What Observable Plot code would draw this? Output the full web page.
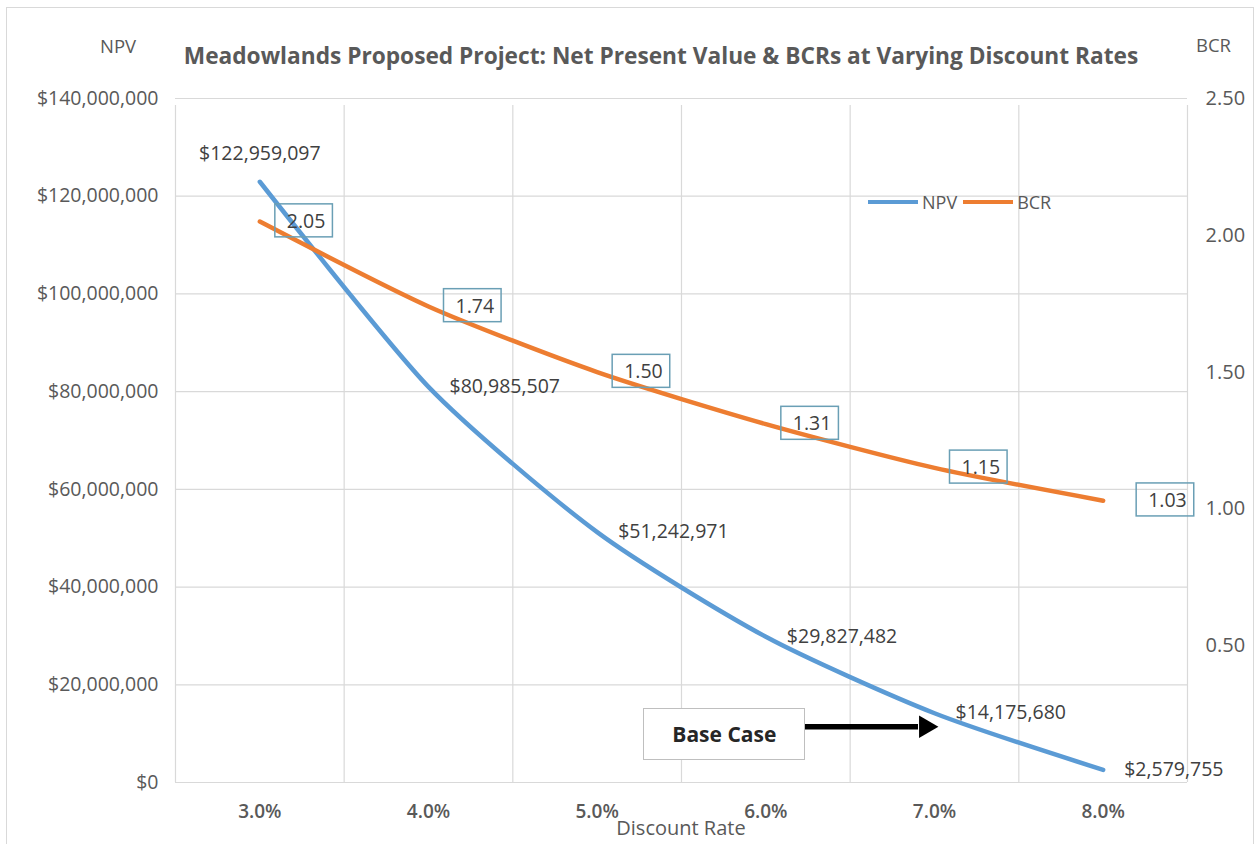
<!DOCTYPE html>
<html>
<head>
<meta charset="utf-8">
<script src="https://cdn.jsdelivr.net/npm/d3@7"></script>
<script src="https://cdn.jsdelivr.net/npm/@observablehq/plot@0.6"></script>
<style>
  html, body { margin: 0; padding: 0; background: #fff; }
  #wrap { position: relative; width: 1258px; height: 844px; font-family: "Open Sans", Lato, sans-serif; color: #595959; overflow: hidden; }
  #wrap svg { position: absolute; left: 0; top: 0; }
  .ov { position: absolute; white-space: nowrap; }
  #frame { position: absolute; left: 6px; top: 7px; width: 1248px; height: 850px; border: 1px solid #d9d9d9; box-sizing: border-box; }
</style>
</head>
<body>
<div id="wrap">
  <div id="frame"></div>
</div>
<script>
// ---- data ----
const rates = [3, 4, 5, 6, 7, 8];
const rateLabels = ["3.0%", "4.0%", "5.0%", "6.0%", "7.0%", "8.0%"];
const npv = [122959097, 80985507, 51242971, 29827482, 14175680, 2579755];
const bcr = [2.05, 1.74, 1.50, 1.31, 1.15, 1.03];
const npvTicks = [0, 20e6, 40e6, 60e6, 80e6, 100e6, 120e6, 140e6];
const bcrTicks = [0.5, 1.0, 1.5, 2.0, 2.5];
const title = "Meadowlands Proposed Project: Net Present Value & BCRs at Varying Discount Rates";
const baseCase = {label: "Base Case", from: 6, to: 7, npv: 11.4e6};

const npvMax = 140e6, bcrMax = 2.5;
const k = npvMax / bcrMax; // BCR -> NPV-space factor
const rows = rates.map((r, i) => ({rate: r, label: rateLabels[i], npv: npv[i], bcr: bcr[i], bcrY: bcr[i] * k, i}));
const bounds = [...rates.map(r => r - 0.5), rates[rates.length - 1] + 0.5];

const blue = "#5b9bd5", orange = "#ed7d31", grid = "#d9d9d9", txt = "#404040";
const fmtMoney = d => "$" + d3.format(",")(d);
const FONT = "'Open Sans', Lato, sans-serif";
const FS = 19.5;

const chart = Plot.plot({
  width: 1258, height: 844,
  marginLeft: 175, marginRight: 71, marginTop: 98, marginBottom: 62,
  style: {fontFamily: FONT, fontSize: FS + "px", color: "#595959", background: "transparent"},
  x: {domain: [2.5, 8.5], axis: null},
  y: {domain: [0, npvMax], axis: null},
  marks: [
    Plot.ruleY(npvTicks, {stroke: grid, strokeWidth: 1.2}),
    Plot.ruleX(bounds, {y1: 0, y2: npvMax, stroke: grid, strokeWidth: 1.2, insetBottom: -7}),
    Plot.axisY(npvTicks, {anchor: "left", tickSize: 0, tickPadding: 17, tickFormat: fmtMoney, fontSize: FS, fill: "#595959"}),
    Plot.axisY(bcrTicks.map(b => b * k), {anchor: "right", tickSize: 0, tickPadding: 18, tickFormat: d => (d / k).toFixed(2), fontSize: 20, fill: "#595959"}),
    Plot.axisX(rates, {anchor: "bottom", tickSize: 0, tickPadding: 22, tickFormat: d => rateLabels[rates.indexOf(d)], fontSize: 19, fontWeight: 600, fill: "#595959"}),
    Plot.line(rows, {x: "rate", y: "npv", stroke: blue, strokeWidth: 4.5, curve: "cardinal", tension: 0.3}),
    Plot.line(rows, {x: "rate", y: "bcrY", stroke: orange, strokeWidth: 4.5, curve: "cardinal", tension: 0.3}),
    Plot.text(rows.filter(d => d.i === 0), {x: "rate", y: "npv", text: d => fmtMoney(d.npv), dy: -28, fill: txt, fontSize: FS}),
    Plot.text(rows.filter(d => d.i > 0), {x: "rate", y: "npv", text: d => fmtMoney(d.npv), dx: 21, textAnchor: "start", fill: txt, fontSize: FS}),
    Plot.text(rows.filter(d => d.i < 5), {x: "rate", y: "bcrY", text: d => d.bcr.toFixed(2), dx: 27, textAnchor: "start", fill: txt, fontSize: FS, className: "bcrlab"}),
    Plot.text(rows.filter(d => d.i === 5), {x: "rate", y: "bcrY", text: d => d.bcr.toFixed(2), dx: 45, textAnchor: "start", fill: txt, fontSize: FS, className: "bcrlab"}),
    // Base case arrow: shaft + filled triangular head
    Plot.ruleY([baseCase], {y: "npv", x1: "from", x2: "to", insetLeft: 37, insetRight: 16, stroke: "#000", strokeWidth: 5.5}),
    Plot.dot([baseCase], {x: "to", y: "npv", symbol: "triangle", r: 8.3, rotate: 90, dx: -9, fill: "#000", stroke: "none"})
  ]
});

document.getElementById("wrap").appendChild(chart);

// Boxes around BCR labels
d3.select(chart).selectAll(".bcrlab text").each(function () {
  const b = this.getBBox();
  const padL = 12, padR = 7, padY = 3;
  d3.select(this.parentNode).insert("rect", () => this)
    .attr("transform", this.getAttribute("transform"))
    .attr("x", b.x - padL).attr("y", b.y - padY)
    .attr("width", b.width + padL + padR).attr("height", b.height + 2 * padY)
    .attr("fill", "none").attr("stroke", "#6a9fb5").attr("stroke-width", 1.5);
});

const sx = chart.scale("x"), sy = chart.scale("y");
const wrap = document.getElementById("wrap");
function add(html, css) {
  const d = document.createElement("div");
  d.className = "ov";
  d.innerHTML = html;
  Object.assign(d.style, css);
  wrap.appendChild(d);
  return d;
}
add(title, {left: "0px", width: "1322px", top: "40px", textAlign: "center", fontWeight: "bold", fontSize: "22.7px", color: "#595959"});
add("NPV", {left: "100px", top: "33px", fontSize: "18.5px"});
add("BCR", {left: "1196px", top: "32px", fontSize: "18.5px"});
add("Discount Rate", {left: (sx.apply(5.5) - 100) + "px", width: "200px", textAlign: "center", top: "814px", fontSize: "20px"});

add(`<span style="display:inline-block;width:50px;height:4px;background:${blue};vertical-align:middle"></span><span style="vertical-align:middle;margin:0 6px 0 4px">NPV</span><span style="display:inline-block;width:50px;height:4px;background:${orange};vertical-align:middle"></span><span style="vertical-align:middle;margin-left:4px">BCR</span>`,
  {left: "868px", top: "188px", fontSize: "18px", color: "#595959"});

const bx = sx.apply(baseCase.from) - 122, by = sy.apply(baseCase.npv) - 18;
add(baseCase.label, {left: bx + "px", top: by + "px", width: "162px", height: "52px", lineHeight: "50px", textAlign: "center",
  border: "1px solid #bfbfbf", boxSizing: "border-box", fontWeight: "bold", fontSize: "21px", color: "#262626", background: "#fff"});
</script>
</body>
</html>
